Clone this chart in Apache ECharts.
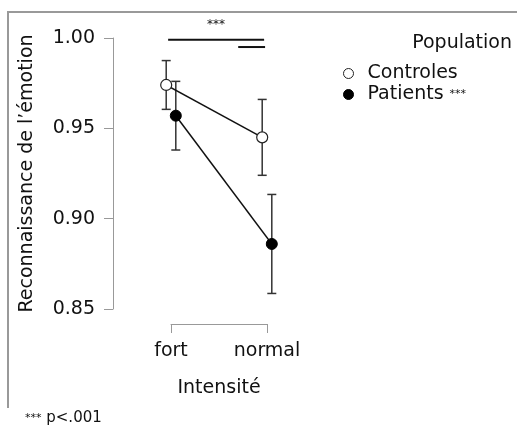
<!DOCTYPE html>
<html>
<head>
<meta charset="utf-8">
<script src="https://cdn.jsdelivr.net/npm/echarts@6/dist/echarts.min.js"></script>
<style>
html,body{margin:0;padding:0;background:#fff;}
#chart{width:517px;height:428px;}
</style>
</head>
<body>
<div id="chart"></div>
<script>
// ---- data ----
const categories = ['fort', 'normal'];
const seriesNames = ['Controles', 'Patients'];
const controlesMean = [0.974, 0.945];
const controlesErr = [0.0135, 0.021];
const patientsMean = [0.957, 0.886];
const patientsErr = [0.019, 0.0274];
const yTicks = [0.85, 0.90, 0.95, 1.00];
// significance bars: [fromCat, toCat, yValue, label]
const sigBars = [[-0.03, 0.97, 0.999, '***'], [0.70, 0.98, 0.995, '']];
const yAxisTitle = 'Reconnaissance de l\u2019émotion';
const xAxisTitle = 'Intensité';
const legendTitle = 'Population';
const footnote = 'p<.001';

const FONT = 'DejaVu Sans';
const TXT = '#111';
const DODGE = 0.05;
const chart = echarts.init(document.getElementById('chart'));

function pts(means, off) { return means.map((m, i) => [i + off, m]); }
function errs(means, e, off) { return means.map((m, i) => [i + off, m - e[i], m + e[i]]); }

function errRender(params, api) {
  const x = api.value(0);
  const lo = api.coord([x, api.value(1)]);
  const hi = api.coord([x, api.value(2)]);
  const hw = 4.5;
  const st = { stroke: '#333', lineWidth: 1.5 };
  return { type: 'group', children: [
    { type: 'line', shape: { x1: lo[0], y1: lo[1], x2: hi[0], y2: hi[1] }, style: st },
    { type: 'line', shape: { x1: lo[0] - hw, y1: lo[1], x2: lo[0] + hw, y2: lo[1] }, style: st },
    { type: 'line', shape: { x1: hi[0] - hw, y1: hi[1], x2: hi[0] + hw, y2: hi[1] }, style: st }
  ]};
}

function sigRender(params, api) {
  const a = api.coord([api.value(0), api.value(2)]);
  const b = api.coord([api.value(1), api.value(2)]);
  const label = sigBars[params.dataIndex][3];
  const children = [
    { type: 'line', shape: { x1: a[0], y1: a[1], x2: b[0], y2: b[1] }, style: { stroke: '#111', lineWidth: 2 } }
  ];
  if (label) {
    children.push({ type: 'text', style: { text: label, x: (a[0] + b[0]) / 2, y: a[1] - 9,
      align: 'center', verticalAlign: 'bottom', font: '12px ' + FONT, fill: '#111' } });
  }
  return { type: 'group', children };
}

const option = {
  animation: false,
  backgroundColor: '#fff',
  textStyle: { fontFamily: FONT },
  grid: { left: 171, right: 250, top: 38, bottom: 119, containLabel: false },
  title: {
    text: legendTitle, right: 0, top: 29,
    textStyle: { fontFamily: FONT, fontSize: 19, fontWeight: 'normal', color: TXT }
  },
  legend: {
    orient: 'vertical', left: 338, top: 59, itemGap: 2,
    itemWidth: 28, itemHeight: 10, icon: 'circle',
    data: [
      { name: seriesNames[0], itemStyle: { color: '#fff', borderColor: '#222', borderWidth: 1 } },
      { name: seriesNames[1], itemStyle: { color: '#000', borderColor: '#000', borderWidth: 1 } }
    ],
    formatter: n => n === 'Patients' ? '{n|' + n + '} {s|***}' : '{n|' + n + '}',
    textStyle: {
      fontFamily: FONT, fontSize: 19, color: TXT, lineHeight: 19,
      rich: { n: { fontFamily: FONT, fontSize: 19, color: TXT }, s: { fontFamily: FONT, fontSize: 11, color: TXT } }
    }
  },
  xAxis: {
    type: 'value', min: 0, max: 1, interval: 1, offset: 15,
    name: xAxisTitle, nameLocation: 'middle', nameGap: 55,
    nameTextStyle: { fontFamily: FONT, fontSize: 19, color: TXT },
    axisLine: { show: true, onZero: false, lineStyle: { color: '#999', width: 1 } },
    axisTick: { show: true, length: 9, lineStyle: { color: '#999' } },
    axisLabel: { margin: 18, fontFamily: FONT, fontSize: 19, color: TXT, formatter: v => categories[Math.round(v)] || '' },
    splitLine: { show: false }
  },
  yAxis: {
    type: 'value', min: yTicks[0], max: yTicks[yTicks.length - 1], interval: 0.05, offset: 58,
    name: yAxisTitle, nameLocation: 'middle', nameGap: 76, nameRotate: 90,
    nameTextStyle: { fontFamily: FONT, fontSize: 19, color: TXT },
    axisLine: { show: true, onZero: false, lineStyle: { color: '#999', width: 1 } },
    axisTick: { show: true, length: 9, lineStyle: { color: '#999' } },
    axisLabel: { margin: 18, fontFamily: FONT, fontSize: 19, color: TXT, formatter: v => v.toFixed(2) },
    splitLine: { show: false }
  },
  graphic: [
    { type: 'polyline', shape: { points: [[8, 408], [8, 12], [517, 12]] }, style: { stroke: '#999', lineWidth: 2, fill: null } },
    { type: 'text', left: 25, top: 411, style: {
      text: '{s|***} {n|' + footnote + '}', font: '15px ' + FONT, fill: TXT,
      rich: { s: { font: '11px ' + FONT, fontFamily: FONT, fontSize: 11, fill: TXT }, n: { font: '15px ' + FONT, fontFamily: FONT, fontSize: 15, fill: TXT } } } }
  ],
  series: [
    { type: 'custom', name: 'errC', renderItem: errRender, data: errs(controlesMean, controlesErr, -DODGE), clip: false, z: 2, silent: true },
    { type: 'custom', name: 'errP', renderItem: errRender, data: errs(patientsMean, patientsErr, DODGE), clip: false, z: 2, silent: true },
    { type: 'custom', name: 'sig', renderItem: sigRender, data: sigBars.map(s => [s[0], s[1], s[2]]), clip: false, z: 2, silent: true },
    {
      type: 'line', name: seriesNames[0], data: pts(controlesMean, -DODGE), clip: false, z: 3,
      symbol: 'circle', symbolSize: 11,
      lineStyle: { color: '#111', width: 1.5 },
      itemStyle: { color: '#fff', borderColor: '#222', borderWidth: 1.2 }
    },
    {
      type: 'line', name: seriesNames[1], data: pts(patientsMean, DODGE), clip: false, z: 4,
      symbol: 'circle', symbolSize: 11,
      lineStyle: { color: '#111', width: 1.5 },
      itemStyle: { color: '#000', borderColor: '#000', borderWidth: 1 }
    }
  ]
};
chart.setOption(option);
</script>
</body>
</html>
